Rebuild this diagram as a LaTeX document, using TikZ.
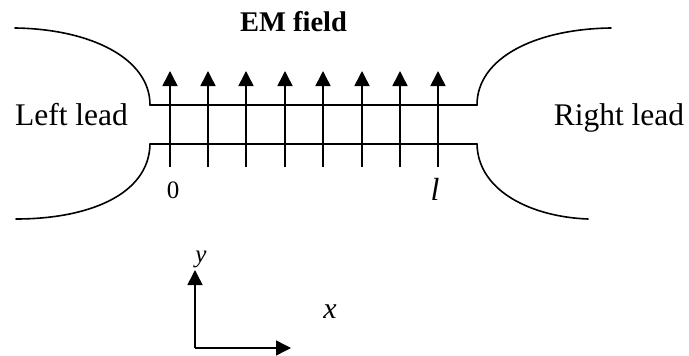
\documentclass[tikz,border=0pt]{standalone}
\usepackage{fontspec}
\setmainfont{Liberation Serif}
\usetikzlibrary{positioning, arrows.meta}
\tikzset{
  wire/.style={line width=1.6pt, line cap=round},
  fieldarrow/.style={line width=1.5pt, -{Triangle[length=15pt, width=15pt]}},
  leadlabel/.style={inner sep=0pt, anchor=base, font=\fontsize{31.5}{34}\selectfont},
  smalllabel/.style={inner sep=0pt, anchor=base, font=\fontsize{25}{27}\selectfont},
  axislabel/.style={inner sep=0pt, anchor=base, font=\fontsize{30}{32}\selectfont\itshape}
}

\begin{document}
\begin{tikzpicture}[x=1pt, y=-1pt]
    \useasboundingbox (0,0) rectangle (689,356);

    % title and leads
    \node[inner sep=0pt, anchor=base, font=\fontsize{28.5}{30}\selectfont\bfseries] (title) at (293.5,31) {EM field};
    \node[leadlabel] (leftlead) at (71.5,125) {Left lead};
    \node[leadlabel] (rightlead) at (619,125) {Right lead};

    % channel walls
    \coordinate (topL) at (150,105);
    \coordinate (topR) at (477,105);
    \coordinate (botL) at (150,144);
    \coordinate (botR) at (477,144);
    \draw[wire] (topL) -- (topR);
    \draw[wire] (botL) -- (botR);

    % lead outlines
    \coordinate (farTL) at (15,28);
    \coordinate (farBL) at (16,219);
    \coordinate (farTR) at (611,28);
    \coordinate (farBR) at (588,219);
    \draw[wire] (farTL) .. controls (90,29) and (150,58) .. (topL);
    \draw[wire] (farBL) .. controls (88,219) and (149,195) .. (botL);
    \draw[wire] (farTR) .. controls (535,29) and (477,58) .. (topR);
    \draw[wire] (farBR) .. controls (533,217) and (478,192) .. (botR);

    % field arrows
    \foreach \i/\xpos in {1/170, 2/208, 3/246, 4/285, 5/323, 6/362, 7/400, 8/438} {
      \coordinate (base\i) at (\xpos,167);
      \coordinate (tip\i) at (\xpos,71);
      \draw[fieldarrow] (base\i) -- (tip\i);
    }
    \node[smalllabel] (zero) at (173,198) {0};
    \node[axislabel, font=\fontsize{32}{34}\selectfont\itshape] (len) at (435,200) {l};

    % axes
    \coordinate (origin) at (195,348);
    \coordinate (ytip) at (195,270);
    \coordinate (xtip) at (291,348);
    \draw[fieldarrow] (origin) -- (ytip);
    \draw[fieldarrow] (origin) -- (xtip);
    \node[axislabel, font=\fontsize{25}{27}\selectfont\itshape] (ylabel) at (201,262) {y};
    \node[axislabel] (xlabel) at (330,318) {x};
  \end{tikzpicture}
\end{document}
